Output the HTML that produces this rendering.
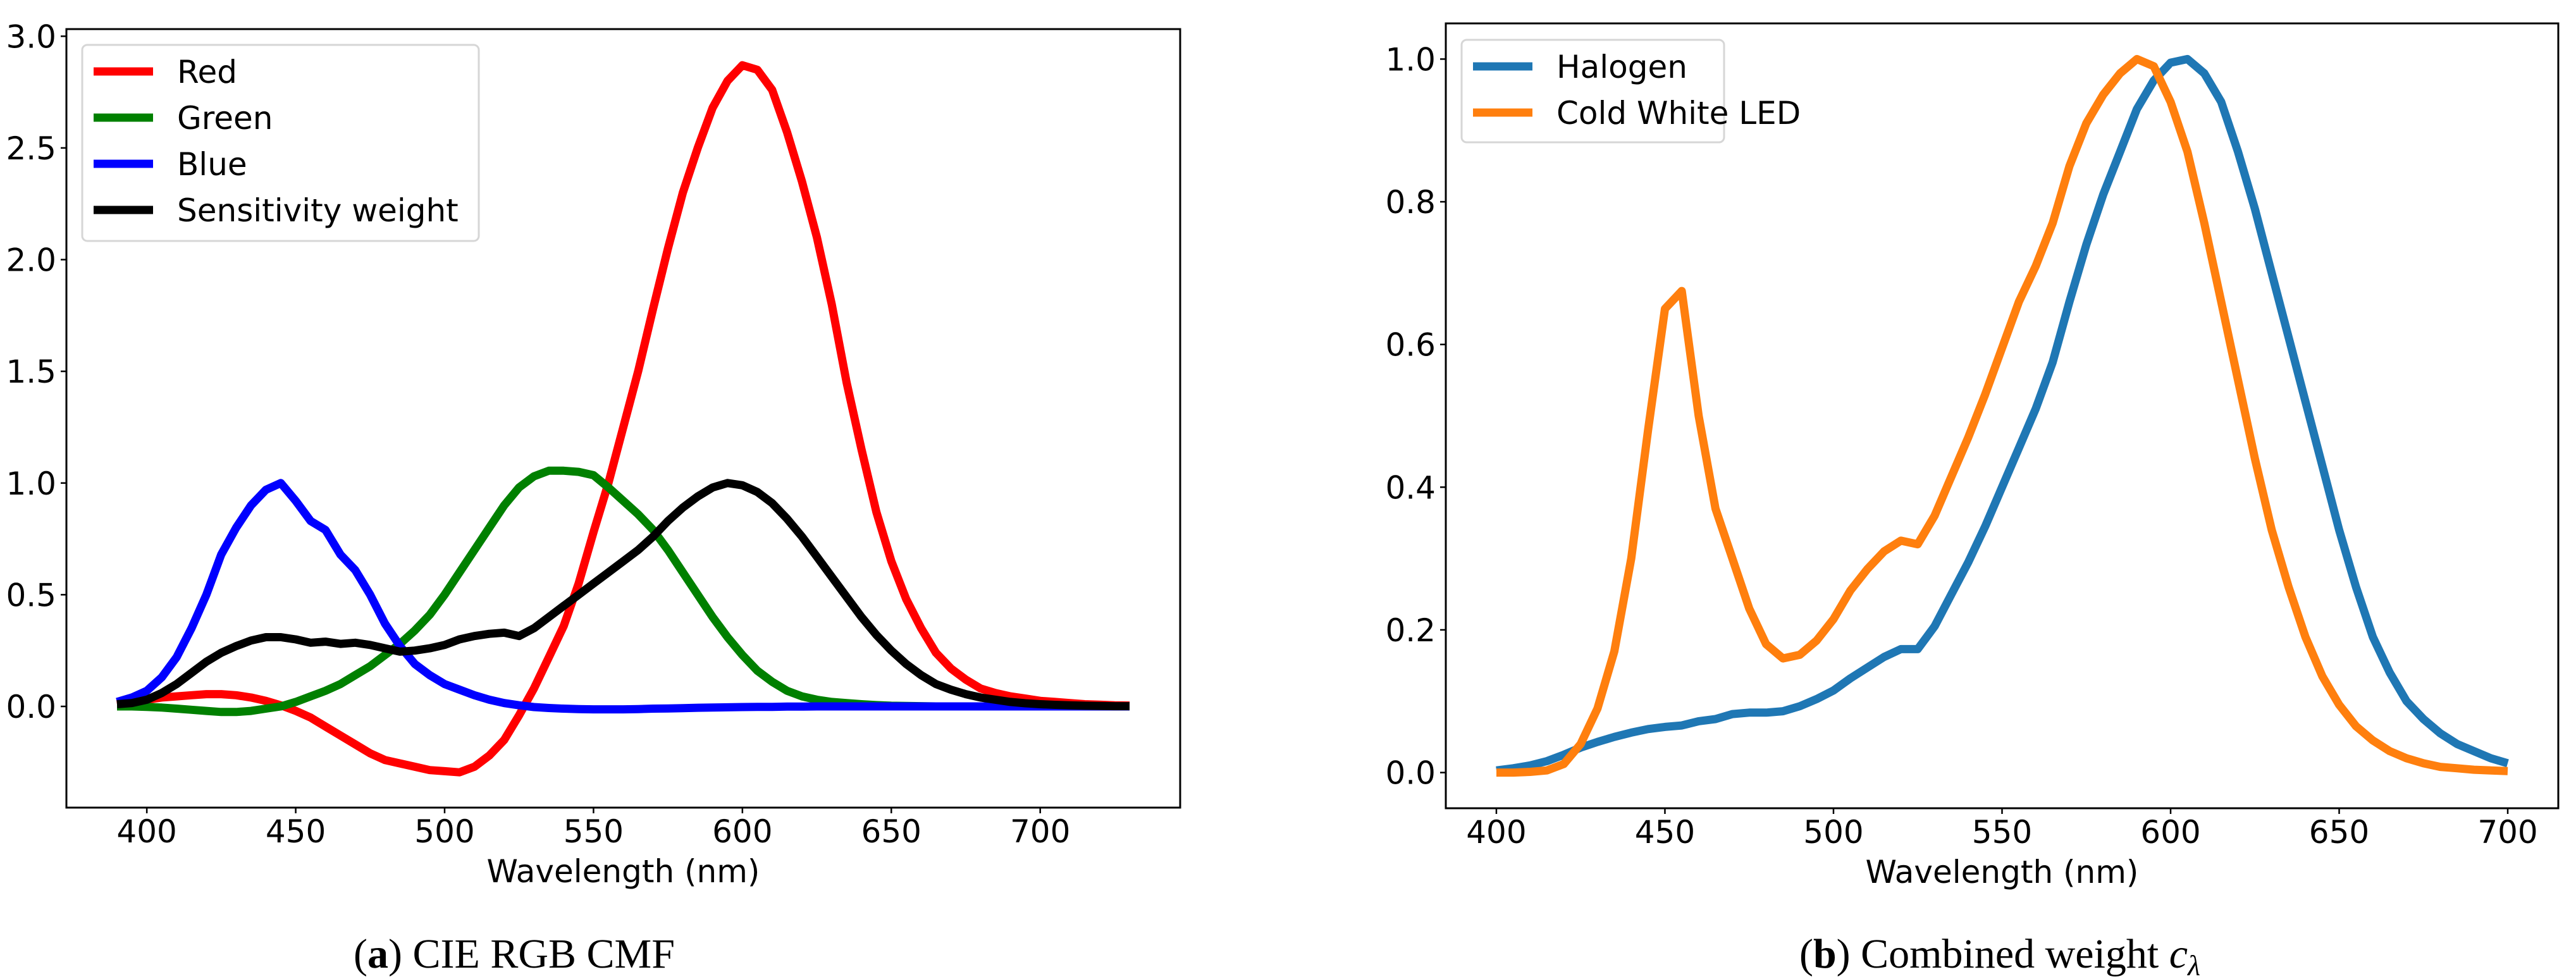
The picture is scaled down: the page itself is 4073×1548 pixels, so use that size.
<!DOCTYPE html>
<html><head><meta charset="utf-8"><style>
html,body{margin:0;padding:0;background:#fff;}
svg{display:block;}
text{font-family:"DejaVu Sans","Liberation Sans",sans-serif;fill:#000;}
.cap{font-family:"Liberation Serif","DejaVu Serif",serif;}
</style></head><body>
<svg id="fig" width="4073" height="1548" viewBox="0 0 4073 1548" xmlns="http://www.w3.org/2000/svg">
<g id="left"></g>
<g id="right"></g>
<text class="cap" x="813" y="1530" font-size="66" text-anchor="middle">(<tspan font-weight="bold">a</tspan>) CIE RGB CMF</text>
<text class="cap" x="3162" y="1530" font-size="66" text-anchor="middle">(<tspan font-weight="bold">b</tspan>) Combined weight <tspan font-style="italic">c</tspan><tspan font-style="italic" font-size="46" dy="12">λ</tspan></text>
</svg>
<script>
// ---- Left chart data (390..730 step 5) ----
const wlA = [390,395,400,405,410,415,420,425,430,435,440,445,450,455,460,465,470,475,480,485,490,495,500,505,510,515,520,525,530,535,540,545,550,555,560,565,570,575,580,585,590,595,600,605,610,615,620,625,630,635,640,645,650,655,660,665,670,675,680,685,690,695,700,705,710,715,720,725,730];
const redVals = [0.01,0.02,0.03,0.04,0.045,0.05,0.055,0.055,0.05,0.04,0.025,0.005,-0.02,-0.05,-0.09,-0.13,-0.17,-0.21,-0.24,-0.255,-0.27,-0.285,-0.29,-0.295,-0.27,-0.22,-0.15,-0.04,0.08,0.22,0.36,0.55,0.78,1.0,1.25,1.5,1.78,2.05,2.3,2.5,2.68,2.8,2.87,2.85,2.76,2.57,2.35,2.1,1.8,1.45,1.15,0.87,0.65,0.48,0.35,0.24,0.17,0.12,0.08,0.06,0.045,0.035,0.025,0.02,0.015,0.01,0.008,0.005,0.004];
const greenVals = [0,0,-0.002,-0.005,-0.01,-0.015,-0.02,-0.025,-0.025,-0.02,-0.01,0,0.02,0.045,0.07,0.1,0.14,0.18,0.23,0.28,0.34,0.41,0.5,0.6,0.7,0.8,0.9,0.98,1.03,1.055,1.055,1.05,1.035,0.98,0.92,0.86,0.79,0.7,0.6,0.5,0.4,0.31,0.23,0.16,0.11,0.07,0.045,0.03,0.02,0.015,0.01,0.006,0.003,0.002,0.001,0,0,0,0,0,0,0,0,0,0,0,0,0,0];
const blueVals = [0.02,0.04,0.07,0.13,0.22,0.35,0.5,0.68,0.8,0.9,0.97,1.0,0.92,0.83,0.79,0.68,0.61,0.5,0.37,0.27,0.19,0.14,0.1,0.075,0.05,0.03,0.015,0.005,-0.003,-0.007,-0.01,-0.012,-0.013,-0.013,-0.013,-0.012,-0.01,-0.009,-0.008,-0.006,-0.005,-0.004,-0.003,-0.002,-0.002,-0.001,-0.001,0,0,0,0,0,0,0,0,0,0,0,0,0,0,0,0,0,0,0,0,0,0];
const sensVals = [0.01,0.015,0.03,0.06,0.1,0.15,0.2,0.24,0.27,0.295,0.31,0.31,0.3,0.285,0.29,0.28,0.285,0.275,0.26,0.245,0.25,0.26,0.275,0.3,0.315,0.325,0.33,0.315,0.35,0.4,0.45,0.5,0.55,0.6,0.65,0.7,0.76,0.83,0.89,0.94,0.98,1.0,0.99,0.96,0.91,0.84,0.76,0.67,0.58,0.49,0.4,0.32,0.25,0.19,0.14,0.1,0.075,0.055,0.04,0.03,0.02,0.014,0.01,0.007,0.005,0.003,0.002,0.001,0.001];
const xTicksA = [400,450,500,550,600,650,700];
const yTicksA = ["0.0","0.5","1.0","1.5","2.0","2.5","3.0"];
const legendA = ["Red","Green","Blue","Sensitivity weight"];
// ---- Right chart data (400..700 step 5) ----
const wlB = [400,405,410,415,420,425,430,435,440,445,450,455,460,465,470,475,480,485,490,495,500,505,510,515,520,525,530,535,540,545,550,555,560,565,570,575,580,585,590,595,600,605,610,615,620,625,630,635,640,645,650,655,660,665,670,675,680,685,690,695,700];
const halogenVals = [0.003,0.006,0.01,0.016,0.025,0.035,0.043,0.05,0.056,0.061,0.064,0.066,0.072,0.075,0.082,0.084,0.084,0.086,0.093,0.103,0.115,0.132,0.147,0.162,0.173,0.173,0.205,0.25,0.295,0.345,0.4,0.455,0.51,0.575,0.66,0.74,0.81,0.87,0.93,0.97,0.995,1.0,0.98,0.94,0.87,0.79,0.7,0.61,0.52,0.43,0.34,0.26,0.19,0.14,0.1,0.075,0.055,0.04,0.03,0.02,0.013];
const ledVals = [0,0,0.001,0.003,0.012,0.04,0.09,0.17,0.3,0.48,0.65,0.675,0.5,0.37,0.3,0.23,0.18,0.16,0.165,0.185,0.215,0.255,0.285,0.31,0.325,0.32,0.36,0.415,0.47,0.53,0.595,0.66,0.71,0.77,0.85,0.91,0.95,0.98,1.0,0.99,0.94,0.87,0.77,0.66,0.55,0.44,0.34,0.26,0.19,0.135,0.095,0.065,0.045,0.03,0.02,0.013,0.008,0.006,0.004,0.003,0.002];
const xTicksB = [400,450,500,550,600,650,700];
const yTicksB = ["0.0","0.2","0.4","0.6","0.8","1.0"];
const legendB = ["Halogen","Cold White LED"];

const NS="http://www.w3.org/2000/svg";
function mk(tag,parent,attrs){const e=document.createElementNS(NS,tag);for(const k in attrs)e.setAttribute(k,attrs[k]);parent.appendChild(e);return e;}

function chart(g,box,xd,yd,xTicks,yTicks,wl,series,colors,names,leg){
  const sx=v=>box.l+(v-xd[0])/(xd[1]-xd[0])*(box.r-box.l);
  const sy=v=>box.b-(v-yd[0])/(yd[1]-yd[0])*(box.b-box.t);
  series.forEach((vals,si)=>{
    const d=vals.map((v,i)=>(i?"L":"M")+sx(wl[i]).toFixed(1)+" "+sy(v).toFixed(1)).join(" ");
    const p=mk("path",g,{d:d,fill:"none",stroke:colors[si],"stroke-width":13,"stroke-linejoin":"round","stroke-linecap":"butt"});
    
    
  });
  const frame=mk("rect",g,{x:box.l,y:box.t,width:box.r-box.l,height:box.b-box.t,fill:"none",stroke:"#000","stroke-width":3});
  
  
  xTicks.forEach(t=>{
    const x=sx(t);
    const tk=mk("line",g,{x1:x,x2:x,y1:box.b,y2:box.b+9,stroke:"#000","stroke-width":2.5});
    
    
    const tx=mk("text",g,{x:x,y:box.b+55,"font-size":50,"text-anchor":"middle"});
    tx.textContent=t;
    
    
  });
  yTicks.forEach(t=>{
    const y=sy(parseFloat(t));
    const tk=mk("line",g,{x1:box.l-9,x2:box.l,y1:y,y2:y,stroke:"#000","stroke-width":2.5});
    
    
    const tx=mk("text",g,{x:box.l-16,y:y+18,"font-size":50,"text-anchor":"end"});
    tx.textContent=t;
    
    
  });
  const xl=mk("text",g,{x:(box.l+box.r)/2,y:box.b+118,"font-size":50,"text-anchor":"middle"});
  xl.textContent="Wavelength (nm)";
  
  
  // legend
  const lg=mk("g",g,{});
  
  
  mk("rect",lg,{x:leg.x,y:leg.y,width:leg.w,height:leg.h,rx:8,fill:"#fff","fill-opacity":0.8,stroke:"#d6d6d6","stroke-width":3});
  names.forEach((n,i)=>{
    const y=leg.y0+i*leg.dy;
    const ln=mk("line",lg,{x1:leg.x+18,x2:leg.x+112,y1:y,y2:y,stroke:colors[i],"stroke-width":13});
    
    
    const tx=mk("text",lg,{x:leg.x+150,y:y+18,"font-size":50});
    tx.textContent=n;
    
    
  });
}
chart(document.getElementById("left"),{l:105,r:1866,t:46,b:1277},[373,747],[-0.453,3.032],xTicksA,yTicksA,wlA,
  [redVals,greenVals,blueVals,sensVals],["#ff0000","#008000","#0000ff","#000000"],legendA,
  {x:130,y:71,w:627,h:310,y0:113,dy:73});
chart(document.getElementById("right"),{l:2286,r:4045,t:37,b:1278},[385,715],[-0.05,1.05],xTicksB,yTicksB,wlB,
  [halogenVals,ledVals],["#1f77b4","#ff7f0e"],legendB,
  {x:2311,y:63,w:415,h:162,y0:105,dy:73});
</script>
</body></html>
